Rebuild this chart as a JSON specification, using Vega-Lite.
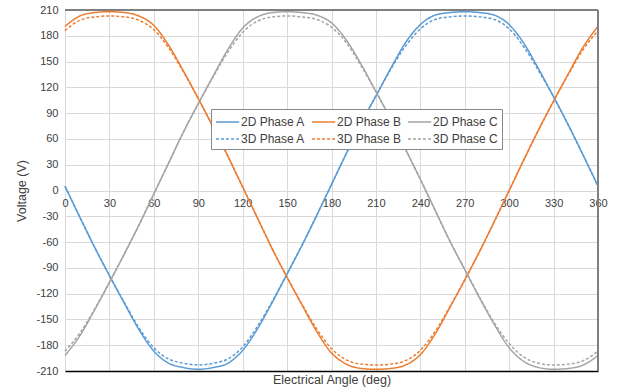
{
  "$schema": "https://vega.github.io/schema/vega-lite/v6.json",
  "width": 533,
  "height": 361,
  "autosize": {"type": "none"},
  "padding": {"left": 65, "top": 10, "right": 21, "bottom": 21},
  "background": "white",
  "config": {
    "view": {"stroke": null},
    "font": "Liberation Sans",
    "axis": {"gridColor": "#d9d9d9", "gridWidth": 1, "labelColor": "#404040", "titleColor": "#404040", "labelFont": "Liberation Sans", "titleFont": "Liberation Sans", "titleFontWeight": "normal", "labelFontSize": 11, "titleFontSize": 12.5, "labelOverlap": false, "ticks": false}
  },
  "resolve": {"axis": {"x": "independent", "y": "independent"}},
  "data": {
    "values": [
      {"angle": 0, "2D Phase A": 5, "2D Phase B": 191, "2D Phase C": -192, "3D Phase A": 5, "3D Phase B": 186, "3D Phase C": -187},
      {"angle": 10, "2D Phase A": -31, "2D Phase B": 203, "2D Phase C": -169, "3D Phase A": -31, "3D Phase B": 198, "3D Phase C": -166},
      {"angle": 20, "2D Phase A": -66, "2D Phase B": 207, "2D Phase C": -139, "3D Phase A": -66, "3D Phase B": 202, "3D Phase C": -138},
      {"angle": 30, "2D Phase A": -99, "2D Phase B": 208, "2D Phase C": -107, "3D Phase A": -99, "3D Phase B": 203, "3D Phase C": -107},
      {"angle": 40, "2D Phase A": -131, "2D Phase B": 207, "2D Phase C": -74, "3D Phase A": -130, "3D Phase B": 202, "3D Phase C": -74},
      {"angle": 50, "2D Phase A": -162, "2D Phase B": 203, "2D Phase C": -40, "3D Phase A": -160, "3D Phase B": 198, "3D Phase C": -40},
      {"angle": 60, "2D Phase A": -187, "2D Phase B": 192, "2D Phase C": -4, "3D Phase A": -183, "3D Phase B": 187, "3D Phase C": -4},
      {"angle": 70, "2D Phase A": -201, "2D Phase B": 169, "2D Phase C": 32, "3D Phase A": -196, "3D Phase B": 166, "3D Phase C": 32},
      {"angle": 80, "2D Phase A": -206, "2D Phase B": 139, "2D Phase C": 68, "3D Phase A": -201, "3D Phase B": 138, "3D Phase C": 68},
      {"angle": 90, "2D Phase A": -208, "2D Phase B": 107, "2D Phase C": 101, "3D Phase A": -203, "3D Phase B": 107, "3D Phase C": 101},
      {"angle": 100, "2D Phase A": -206, "2D Phase B": 74, "2D Phase C": 133, "3D Phase A": -201, "3D Phase B": 74, "3D Phase C": 132},
      {"angle": 110, "2D Phase A": -201, "2D Phase B": 40, "2D Phase C": 164, "3D Phase A": -196, "3D Phase B": 40, "3D Phase C": 161},
      {"angle": 120, "2D Phase A": -186, "2D Phase B": 4, "2D Phase C": 189, "3D Phase A": -182, "3D Phase B": 4, "3D Phase C": 184},
      {"angle": 130, "2D Phase A": -161, "2D Phase B": -32, "2D Phase C": 202, "3D Phase A": -158, "3D Phase B": -32, "3D Phase C": 197},
      {"angle": 140, "2D Phase A": -130, "2D Phase B": -68, "2D Phase C": 207, "3D Phase A": -129, "3D Phase B": -68, "3D Phase C": 202},
      {"angle": 150, "2D Phase A": -97, "2D Phase B": -101, "2D Phase C": 208, "3D Phase A": -97, "3D Phase B": -101, "3D Phase C": 203},
      {"angle": 160, "2D Phase A": -64, "2D Phase B": -133, "2D Phase C": 207, "3D Phase A": -64, "3D Phase B": -132, "3D Phase C": 202},
      {"angle": 170, "2D Phase A": -29, "2D Phase B": -164, "2D Phase C": 204, "3D Phase A": -29, "3D Phase B": -161, "3D Phase C": 199},
      {"angle": 180, "2D Phase A": 7, "2D Phase B": -189, "2D Phase C": 195, "3D Phase A": 7, "3D Phase B": -184, "3D Phase C": 190},
      {"angle": 190, "2D Phase A": 43, "2D Phase B": -202, "2D Phase C": 175, "3D Phase A": 43, "3D Phase B": -197, "3D Phase C": 172},
      {"angle": 200, "2D Phase A": 78, "2D Phase B": -207, "2D Phase C": 147, "3D Phase A": 78, "3D Phase B": -202, "3D Phase C": 145},
      {"angle": 210, "2D Phase A": 110, "2D Phase B": -208, "2D Phase C": 115, "3D Phase A": 110, "3D Phase B": -203, "3D Phase C": 115},
      {"angle": 220, "2D Phase A": 142, "2D Phase B": -207, "2D Phase C": 83, "3D Phase A": 141, "3D Phase B": -202, "3D Phase C": 83},
      {"angle": 230, "2D Phase A": 172, "2D Phase B": -203, "2D Phase C": 48, "3D Phase A": 168, "3D Phase B": -198, "3D Phase C": 48},
      {"angle": 240, "2D Phase A": 193, "2D Phase B": -191, "2D Phase C": 13, "3D Phase A": 188, "3D Phase B": -186, "3D Phase C": 13},
      {"angle": 250, "2D Phase A": 204, "2D Phase B": -167, "2D Phase C": -23, "3D Phase A": 199, "3D Phase B": -164, "3D Phase C": -23},
      {"angle": 260, "2D Phase A": 207, "2D Phase B": -136, "2D Phase C": -59, "3D Phase A": 202, "3D Phase B": -135, "3D Phase C": -59},
      {"angle": 270, "2D Phase A": 208, "2D Phase B": -104, "2D Phase C": -92, "3D Phase A": 203, "3D Phase B": -104, "3D Phase C": -92},
      {"angle": 280, "2D Phase A": 207, "2D Phase B": -71, "2D Phase C": -125, "3D Phase A": 202, "3D Phase B": -71, "3D Phase C": -124},
      {"angle": 290, "2D Phase A": 204, "2D Phase B": -36, "2D Phase C": -156, "3D Phase A": 199, "3D Phase B": -36, "3D Phase C": -154},
      {"angle": 300, "2D Phase A": 193, "2D Phase B": 0, "2D Phase C": -183, "3D Phase A": 188, "3D Phase B": 0, "3D Phase C": -178},
      {"angle": 310, "2D Phase A": 171, "2D Phase B": 36, "2D Phase C": -199, "3D Phase A": 167, "3D Phase B": 36, "3D Phase C": -194},
      {"angle": 320, "2D Phase A": 141, "2D Phase B": 71, "2D Phase C": -206, "3D Phase A": 139, "3D Phase B": 71, "3D Phase C": -201},
      {"angle": 330, "2D Phase A": 109, "2D Phase B": 104, "2D Phase C": -208, "3D Phase A": 109, "3D Phase B": 104, "3D Phase C": -203},
      {"angle": 340, "2D Phase A": 76, "2D Phase B": 136, "2D Phase C": -207, "3D Phase A": 76, "3D Phase B": 135, "3D Phase C": -202},
      {"angle": 350, "2D Phase A": 41, "2D Phase B": 167, "2D Phase C": -203, "3D Phase A": 41, "3D Phase B": 164, "3D Phase C": -198},
      {"angle": 360, "2D Phase A": 5, "2D Phase B": 191, "2D Phase C": -192, "3D Phase A": 5, "3D Phase B": 186, "3D Phase C": -187}
    ]
  },
  "layer": [
    {
      "transform": [
        {"fold": ["2D Phase A", "2D Phase B", "2D Phase C", "3D Phase A", "3D Phase B", "3D Phase C"], "as": ["series", "voltage"]}
      ],
      "mark": {"type": "line", "interpolate": "monotone", "strokeWidth": 1.5},
      "encoding": {
        "x": {
          "field": "angle", "type": "quantitative",
          "scale": {"domain": [0, 360], "nice": false},
          "axis": {"values": [0, 30, 60, 90, 120, 150, 180, 210, 240, 270, 300, 330, 360], "title": "Electrical Angle (deg)", "ticks": false, "domain": true, "domainColor": "#000000", "domainWidth": 1.5, "labelPadding": -174, "titlePadding": 2, "labelFlush": false, "labelOverlap": false}
        },
        "y": {
          "field": "voltage", "type": "quantitative",
          "scale": {"domain": [-210, 210], "nice": false},
          "axis": {"values": [-210, -180, -150, -120, -90, -60, -30, 0, 30, 60, 90, 120, 150, 180, 210], "labelExpr": "'' + datum.value", "title": "Voltage (V)", "ticks": false, "domain": false, "labelPadding": 7, "titlePadding": 7, "labelOverlap": false}
        },
        "color": {
          "field": "series", "type": "nominal",
          "scale": {"domain": ["2D Phase A", "2D Phase B", "2D Phase C", "3D Phase A", "3D Phase B", "3D Phase C"], "range": ["#5B9BD5", "#ED7D31", "#A5A5A5", "#5B9BD5", "#ED7D31", "#A5A5A5"]},
          "legend": {"title": null, "orient": "none", "legendX": 146, "legendY": 99, "columns": 3, "direction": "horizontal", "symbolType": "M-1,0H1.9", "symbolSize": 256, "symbolStrokeWidth": 1.5, "labelFontSize": 12, "labelFont": "Liberation Sans", "labelColor": "#404040", "labelOffset": 8, "columnPadding": 3, "rowPadding": 2, "padding": 4, "strokeColor": "#888888", "fillColor": "white"}
        },
        "strokeDash": {
          "field": "series", "type": "nominal",
          "scale": {"domain": ["2D Phase A", "2D Phase B", "2D Phase C", "3D Phase A", "3D Phase B", "3D Phase C"], "range": [[1, 0], [1, 0], [1, 0], [3, 2], [3, 2], [3, 2]]},
          "legend": {"title": null, "orient": "none", "legendX": 146, "legendY": 99, "columns": 3, "direction": "horizontal", "symbolType": "M-1,0H1.9", "symbolSize": 256, "symbolStrokeWidth": 1.5, "labelFontSize": 12, "labelFont": "Liberation Sans", "labelColor": "#404040", "labelOffset": 8, "columnPadding": 3, "rowPadding": 2, "padding": 4, "strokeColor": "#888888", "fillColor": "white"}
        }
      }
    },
    {
      "mark": {"type": "rule", "color": "#808080", "strokeWidth": 2},
      "encoding": {"y": {"datum": 210, "axis": null}}
    },
    {
      "mark": {"type": "rule", "color": "#808080", "strokeWidth": 2},
      "encoding": {"x": {"datum": 360, "axis": null}}
    }
  ]
}
